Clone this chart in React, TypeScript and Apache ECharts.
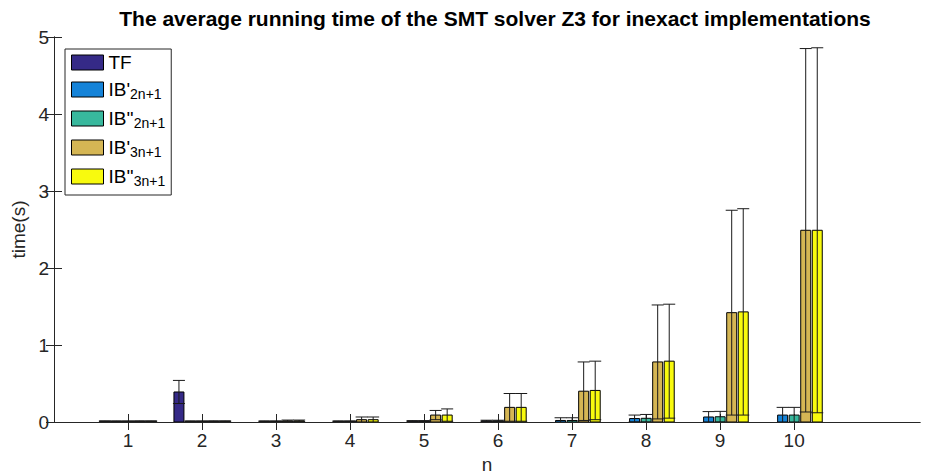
import React, { useEffect, useRef } from "react";
import * as echarts from "echarts";

// ---- data ----
const nValues = [1, 2, 3, 4, 5, 6, 7, 8, 9, 10];
const seriesNames = ["TF", "IB'2n+1", "IB''2n+1", "IB'3n+1", "IB''3n+1"];
const seriesColors = ["#352a87", "#1583d8", "#38b89d", "#d5b654", "#f8fa0e"];

// mean running time (null = not run)
const tfMean = [0.01, 0.39, null, null, null, null, null, null, null, null];
const ib2pMean = [0.01, 0.01, 0.01, 0.01, 0.012, 0.015, 0.02, 0.045, 0.065, 0.09];
const ib2ppMean = [0.01, 0.01, 0.01, 0.01, 0.012, 0.015, 0.02, 0.048, 0.068, 0.09];
const ib3pMean = [0.01, 0.01, 0.015, 0.03, 0.09, 0.19, 0.4, 0.78, 1.42, 2.49];
const ib3ppMean = [0.01, 0.01, 0.015, 0.03, 0.09, 0.19, 0.41, 0.79, 1.43, 2.49];

// standard deviation (error bar half-length)
const tfErr = [0.005, 0.15, null, null, null, null, null, null, null, null];
const ib2pErr = [0.004, 0.004, 0.004, 0.004, 0.006, 0.008, 0.035, 0.045, 0.07, 0.1];
const ib2ppErr = [0.004, 0.004, 0.004, 0.004, 0.006, 0.008, 0.035, 0.05, 0.07, 0.1];
const ib3pErr = [0.005, 0.005, 0.01, 0.035, 0.06, 0.18, 0.38, 0.74, 1.33, 2.36];
const ib3ppErr = [0.005, 0.005, 0.01, 0.035, 0.08, 0.18, 0.38, 0.74, 1.34, 2.37];

const yTicks = [0, 1, 2, 3, 4, 5];

const allMeans = [tfMean, ib2pMean, ib2ppMean, ib3pMean, ib3ppMean];
const allErrs = [tfErr, ib2pErr, ib2ppErr, ib3pErr, ib3ppErr];

const FONT = "'Liberation Sans', Arial, Helvetica, sans-serif";
const TXT = "#262626";
const STRIDE = 0.156;
const BAR_W = 0.135;
const CAP_PX = 12;

function legendLabel(name: string): string {
  if (name === "TF") return "{m|TF}";
  const m = name.match(/^(IB'+)(.*)$/);
  if (!m) return name;
  return `{m|${m[1]}}{s|${m[2]}}`;
}

export default function App() {
  const ref = useRef<HTMLDivElement>(null);

  useEffect(() => {
    if (!ref.current) return;
    const chart = echarts.init(ref.current, undefined, { renderer: "svg" });

    const barSeries = seriesNames.map((name, si) => {
      const data: number[][] = [];
      nValues.forEach((n, i) => {
        const v = allMeans[si][i];
        if (v !== null && v !== undefined) data.push([n, v]);
      });
      return {
        type: "custom",
        name,
        xAxisIndex: 0,
        yAxisIndex: 0,
        clip: true,
        z: 2,
        itemStyle: { color: seriesColors[si] },
        encode: { x: 0, y: 1 },
        data,
        renderItem: (params: any, api: any) => {
          const n = api.value(0);
          const v = api.value(1);
          const xc = n + (si - 2) * STRIDE;
          const top = api.coord([xc, v]);
          const base = api.coord([xc, 0]);
          const w = api.size([BAR_W, 0])[0];
          return {
            type: "rect",
            shape: { x: top[0] - w / 2, y: top[1], width: w, height: Math.max(base[1] - top[1], 0.5) },
            style: { fill: seriesColors[si], stroke: "#000", lineWidth: 1 },
          };
        },
      };
    });

    const errData: number[][] = [];
    seriesNames.forEach((_, si) => {
      nValues.forEach((n, i) => {
        const v = allMeans[si][i];
        const e = allErrs[si][i];
        if (v !== null && e !== null) errData.push([n, v, e as number, si]);
      });
    });

    const errSeries = {
      type: "custom",
      name: "errorbars",
      xAxisIndex: 0,
      yAxisIndex: 0,
      clip: true,
      z: 3,
      encode: { x: 0, y: 1 },
      data: errData,
      renderItem: (params: any, api: any) => {
        const n = api.value(0);
        const v = api.value(1);
        const e = api.value(2);
        const si = api.value(3);
        const xc = n + (si - 2) * STRIDE;
        const hi = api.coord([xc, v + e]);
        const lo = api.coord([xc, v - e]);
        const st = { stroke: "#1a1a1a", lineWidth: 1 };
        return {
          type: "group",
          children: [
            { type: "line", shape: { x1: hi[0], y1: hi[1], x2: lo[0], y2: lo[1] }, style: st },
            { type: "line", shape: { x1: hi[0] - CAP_PX / 2, y1: hi[1], x2: hi[0] + CAP_PX / 2, y2: hi[1] }, style: st },
            { type: "line", shape: { x1: lo[0] - CAP_PX / 2, y1: lo[1], x2: lo[0] + CAP_PX / 2, y2: lo[1] }, style: st },
          ],
        };
      },
    };

    const axisLineStyle = { color: TXT, width: 1 };

    chart.setOption({
      animation: false,
      title: {
        text: "The average running time of the SMT solver Z3 for inexact implementations",
        left: 490,
        textAlign: "center",
        top: 3,
        textStyle: { fontFamily: FONT, fontWeight: "bold", fontSize: 21, color: "#000" },
      },
      grid: { left: 54, right: 12, top: 37, bottom: 52, containLabel: false, outerBoundsMode: "none" },
      legend: {
        orient: "vertical",
        left: 65,
        top: 49,
        icon: "rect",
        itemWidth: 32,
        itemHeight: 15,
        itemGap: 6,
        padding: [4, 6, 7, 6],
        borderColor: TXT,
        borderWidth: 1,
        backgroundColor: "#fff",
        data: seriesNames.map((name, si) => ({
          name,
          itemStyle: { color: seriesColors[si], borderColor: "#000", borderWidth: 1 },
        })),
        formatter: (name: string) => legendLabel(name),
        textStyle: {
          fontFamily: FONT,
          color: "#000",
          rich: {
            m: { fontFamily: FONT, fontSize: 19, color: "#000", lineHeight: 18 },
            s: { fontFamily: FONT, fontSize: 14, color: "#000", padding: [9, 0, 0, 0], lineHeight: 14 },
          },
        },
      },
      xAxis: [
        {
          type: "value",
          position: "bottom",
          min: 0,
          max: 11.7,
          name: "n",
          nameLocation: "middle",
          nameGap: 30,
          nameTextStyle: { fontFamily: FONT, fontSize: 19, color: TXT },
          axisLine: { show: true, lineStyle: axisLineStyle },
          axisTick: { show: true, inside: true, length: 8, customValues: nValues, lineStyle: axisLineStyle },
          axisLabel: { show: true, customValues: nValues, margin: 9, fontFamily: FONT, fontSize: 19, color: TXT },
          splitLine: { show: false },
        },
        {
          type: "value",
          position: "top",
          min: 0,
          max: 11.7,
          axisLine: { show: true, lineStyle: axisLineStyle },
          axisTick: { show: true, inside: true, length: 8, customValues: nValues, lineStyle: axisLineStyle },
          axisLabel: { show: false },
          splitLine: { show: false },
        },
      ],
      yAxis: [
        {
          type: "value",
          position: "left",
          min: yTicks[0],
          max: yTicks[yTicks.length - 1],
          interval: 1,
          name: "time(s)",
          nameLocation: "middle",
          nameGap: 22,
          nameTextStyle: { fontFamily: FONT, fontSize: 19, color: TXT },
          axisLine: { show: true, lineStyle: axisLineStyle },
          axisTick: { show: true, inside: true, length: 8, lineStyle: axisLineStyle },
          axisLabel: { show: true, margin: 5, fontFamily: FONT, fontSize: 19, color: TXT },
          splitLine: { show: false },
        },
        {
          type: "value",
          position: "right",
          min: yTicks[0],
          max: yTicks[yTicks.length - 1],
          interval: 1,
          axisLine: { show: true, lineStyle: axisLineStyle },
          axisTick: { show: true, inside: true, length: 8, lineStyle: axisLineStyle },
          axisLabel: { show: false },
          splitLine: { show: false },
        },
      ],
      series: [...barSeries, errSeries],
    });

    return () => chart.dispose();
  }, []);

  return <div ref={ref} style={{ width: 932, height: 474, position: "absolute", left: 0, top: 0 }} />;
}
